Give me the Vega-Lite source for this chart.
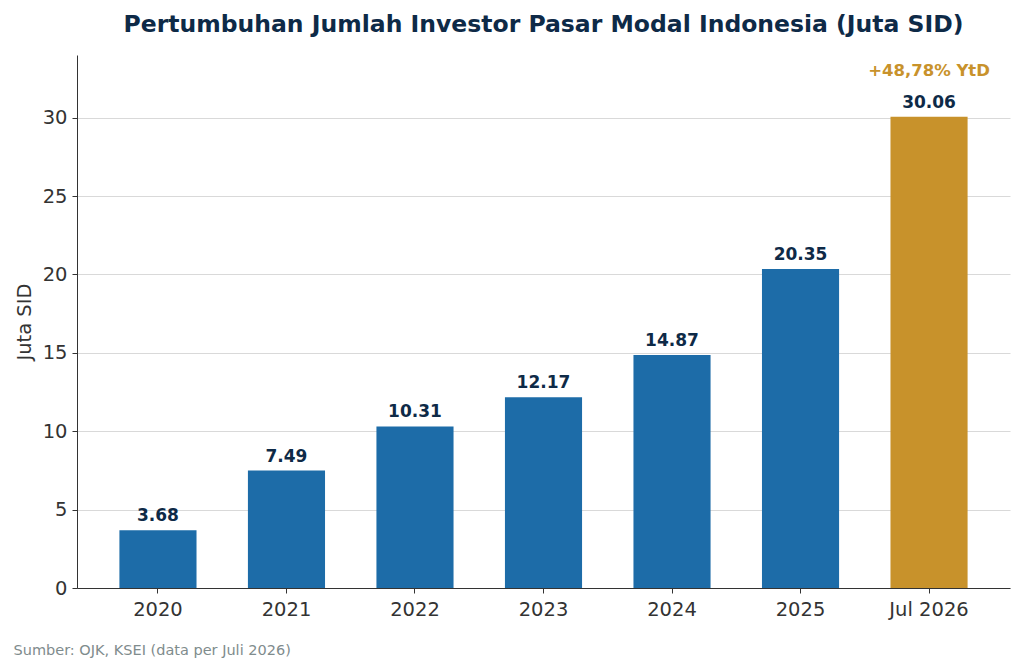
{
  "$schema": "https://vega.github.io/schema/vega-lite/v6.json",
  "width": 933,
  "height": 533,
  "autosize": {"type": "none"},
  "padding": {"left": 77, "top": 55, "right": 14, "bottom": 82},
  "background": "white",
  "title": {
    "text": "Pertumbuhan Jumlah Investor Pasar Modal Indonesia (Juta SID)",
    "font": "DejaVu Sans",
    "fontSize": 23.5,
    "fontWeight": "bold",
    "color": "#0e2a47",
    "anchor": "middle",
    "offset": 19
  },
  "data": {
    "values": [
      {"tahun": "2020", "sid": 3.68, "jenis": "tahunan", "catatan": ""},
      {"tahun": "2021", "sid": 7.49, "jenis": "tahunan", "catatan": ""},
      {"tahun": "2022", "sid": 10.31, "jenis": "tahunan", "catatan": ""},
      {"tahun": "2023", "sid": 12.17, "jenis": "tahunan", "catatan": ""},
      {"tahun": "2024", "sid": 14.87, "jenis": "tahunan", "catatan": ""},
      {"tahun": "2025", "sid": 20.35, "jenis": "tahunan", "catatan": ""},
      {"tahun": "Jul 2026", "sid": 30.06, "jenis": "ytd", "catatan": "+48,78% YtD"}
    ]
  },
  "encoding": {
    "x": {
      "field": "tahun",
      "type": "nominal",
      "sort": null,
      "scale": {"paddingInner": 0.4, "paddingOuter": 0.33},
      "axis": {
        "title": "Sumber: OJK, KSEI (data per Juli 2026)",
        "titleFont": "DejaVu Sans",
        "titleFontSize": 14.5,
        "titleFontWeight": "normal",
        "titleColor": "#7f8c8d",
        "titleAnchor": "start",
        "titleAlign": "left",
        "titleX": -64,
        "titleY": 55,
        "labelAngle": 0,
        "labelFont": "DejaVu Sans",
        "labelFontSize": 19.5,
        "labelColor": "#333333",
        "labelPadding": 7,
        "tickSize": 5,
        "tickColor": "#333333",
        "domainColor": "#333333",
        "grid": false
      }
    },
    "y": {
      "field": "sid",
      "type": "quantitative",
      "scale": {"domain": [0, 34], "nice": false},
      "axis": {
        "title": "Juta SID",
        "titleFont": "DejaVu Sans",
        "titleFontSize": 19.5,
        "titleFontWeight": "normal",
        "titleColor": "#333333",
        "titlePadding": 8,
        "values": [0, 5, 10, 15, 20, 25, 30],
        "labelFont": "DejaVu Sans",
        "labelFontSize": 19.5,
        "labelColor": "#333333",
        "labelPadding": 5,
        "tickSize": 5,
        "tickColor": "#333333",
        "domainColor": "#333333",
        "gridColor": "#d9d9d9",
        "gridWidth": 1
      }
    }
  },
  "layer": [
    {
      "mark": {"type": "bar"},
      "encoding": {
        "color": {
          "field": "jenis",
          "type": "nominal",
          "scale": {"domain": ["tahunan", "ytd"], "range": ["#1d6ca8", "#c8922b"]},
          "legend": null
        }
      }
    },
    {
      "mark": {
        "type": "text",
        "baseline": "middle",
        "dy": -14,
        "font": "DejaVu Sans",
        "fontSize": 17,
        "fontWeight": "bold",
        "color": "#0e2a47"
      },
      "encoding": {
        "text": {"field": "sid", "type": "quantitative", "format": ".2f"}
      }
    },
    {
      "transform": [{"filter": "datum.catatan != ''"}],
      "mark": {
        "type": "text",
        "baseline": "middle",
        "dy": -46,
        "font": "DejaVu Sans",
        "fontSize": 16.5,
        "fontWeight": "bold",
        "color": "#c8922b"
      },
      "encoding": {
        "text": {"field": "catatan", "type": "nominal"}
      }
    }
  ],
  "config": {
    "view": {"stroke": null}
  }
}
